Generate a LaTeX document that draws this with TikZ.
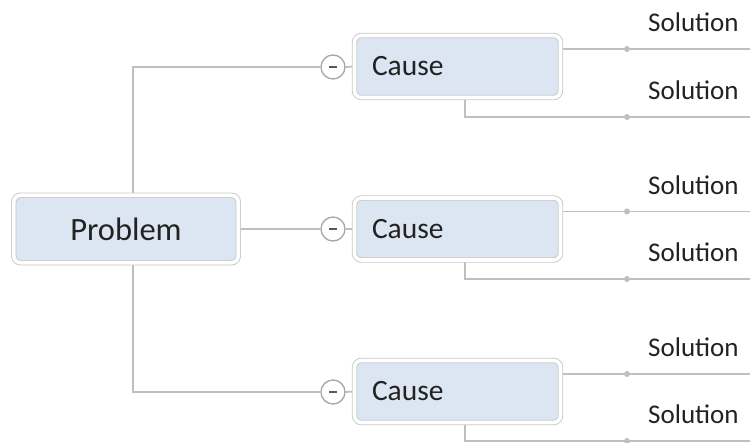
\documentclass[tikz,border=0pt]{standalone}
\usepackage{fontspec}
\setmainfont{Carlito}
\usetikzlibrary{backgrounds}
\definecolor{linegray}{HTML}{BFBFBF}
\definecolor{boxgray}{HTML}{C8C8C8}
\definecolor{boxfill}{HTML}{DCE6F2}
\definecolor{txt}{HTML}{222222}
\definecolor{circgray}{HTML}{A6A6A6}
\definecolor{minusgray}{HTML}{595959}
\tikzset{
  topicbox/.style={draw=boxgray, line width=0.9pt, double=white, double distance=3.6pt,
    fill=boxfill, rounded corners=7pt, text=txt},
  problembox/.style={topicbox, minimum width=224.5pt, minimum height=67.5pt,
    font=\fontsize{32.5}{37}\selectfont},
  causebox/.style={topicbox, minimum width=206pt, minimum height=62pt,
    inner xsep=17.5pt, text width=171pt, align=left, font=\fontsize{29.5}{34}\selectfont},
  soltext/.style={anchor=base west, inner sep=0pt, text=txt, font=\fontsize{27}{31}\selectfont},
  conn/.style={draw=linegray, line width=1.8pt},
  collapse/.style={circle, draw=circgray, line width=1.3pt, fill=white, minimum size=24pt, inner sep=0pt},
  minus/.style={draw=minusgray, line width=2pt},
  joint/.style={circle, fill=linegray, minimum size=6pt, inner sep=0pt},
}
\begin{document}
\begin{tikzpicture}[x=1pt, y=-1pt]
\useasboundingbox (0,0) rectangle (750,443);
% main topic
\node[problembox] (p) at (126,229) {Problem};
% causes
\node[causebox] (c1) at (457.5,66.5) {Cause};
\node[causebox] (c2) at (457.5,229) {Cause};
\node[causebox] (c3) at (457.5,391.5) {Cause};
% collapse markers
\node[collapse] (m1) at (333,67) {};
\node[collapse] (m2) at (333,229) {};
\node[collapse] (m3) at (333,392) {};
\foreach \m in {m1,m2,m3}{
  \draw[minus] ([xshift=-4pt]\m.center) -- ([xshift=4pt]\m.center);
}
% solution texts
\node[soltext] (s1a) at (648,32) {Solution};
\node[soltext] (s1b) at (648,100) {Solution};
\node[soltext] (s2a) at (648,194.5) {Solution};
\node[soltext] (s2b) at (648,262) {Solution};
\node[soltext] (s3a) at (648,357) {Solution};
\node[soltext] (s3b) at (648,424) {Solution};
% line ends and joints
\coordinate (e1a) at (750,49);
\coordinate (e1b) at (750,117);
\coordinate (e2a) at (750,211.5);
\coordinate (e2b) at (750,279);
\coordinate (e3a) at (750,374);
\coordinate (e3b) at (750,441);
\coordinate (b1) at (465,117);
\coordinate (b2) at (465,279);
\coordinate (b3) at (465,441);
\coordinate (pt) at (133,229);
\begin{pgfonlayer}{background}
  % problem to causes
  \draw[conn] (pt) |- (m1.west);
  \draw[conn] (p.east) -- (m2.west);
  \draw[conn] (pt) |- (m3.west);
  \foreach \i in {1,2,3}{
    \draw[conn] (m\i.east) -- (c\i.west);
    \draw[conn] (c\i.east |- e\i a) -- (e\i a);
    \draw[conn] (c\i.center -| b\i) -- (b\i) -- (e\i b);
  }
\end{pgfonlayer}
\foreach \i in {1,2,3}{
  \node[joint] (j\i a) at (627,0 |- e\i a) {};
  \node[joint] (j\i b) at (627,0 |- e\i b) {};
}
\end{tikzpicture}
\end{document}
